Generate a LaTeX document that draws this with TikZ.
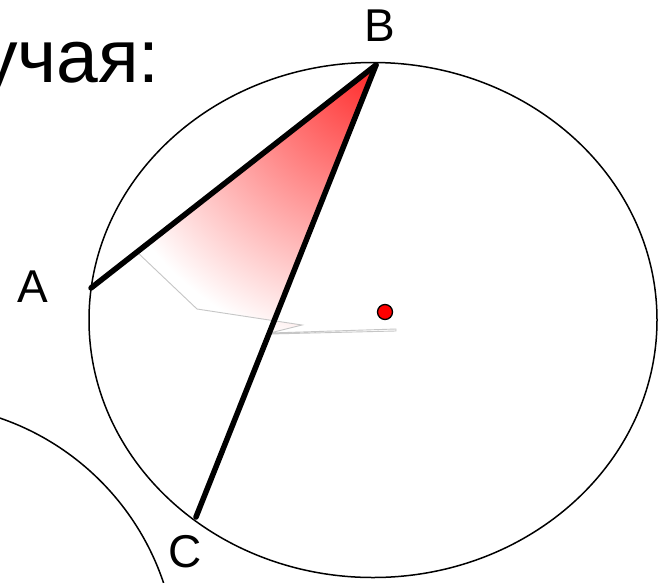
\documentclass[tikz,border=0pt]{standalone}
\usepackage{fontspec}
\setmainfont{Liberation Sans}
\begin{document}
\begin{tikzpicture}[x=1pt,y=-1pt,
  chord/.style={line width=5.5pt, line cap=round},
  rim/.style={line width=1.5pt},
  lbl/.style={font=\fontsize{46}{50}\selectfont, inner sep=0pt},
  hint/.style={draw=gray!45, line width=0.9pt}]
\useasboundingbox (0,0) rectangle (664,582);
\fill[white] (0,0) rectangle (664,582);
% heading fragment
\node[anchor=base east, inner sep=0pt, font=\fontsize{75}{80}\selectfont] (title) at (160,82) {учая:};
% points
\coordinate (A) at (91,288);
\coordinate (B) at (376,65);
\coordinate (C) at (196,517);
\coordinate (P1) at (137,252);
\coordinate (P2) at (197,309);
\coordinate (P3) at (302,325);
\coordinate (P4) at (270,333);
\coordinate (P5) at (396,329);
% shaded region (radial from B)
\begin{scope}
  \clip (B) -- (P1) -- (P2) -- (P3) -- (P4) -- cycle;
  \shade[inner color=red!85!white, outer color=white] (B) circle [radius=290];
\end{scope}
\draw[hint] (B) -- (P1) -- (P2) -- (P3) -- (P4) -- (P5) -- ([yshift=-2]P5) -- ([yshift=-1]P4);
% circles
\draw[rim] (373,320) ellipse [x radius=284, y radius=257.5];
\draw[rim] (-85,666) circle [radius=262];
% chords
\draw[chord] (A) -- (B);
\draw[chord] (B) -- (C);
% centre dot
\node[circle, fill=red, draw=black, line width=1.3pt, minimum size=15pt, inner sep=0pt] (O) at (385,312) {};
% labels
\node[lbl] (la) at (33,287) {A};
\node[lbl] (lb) at (380,26) {B};
\node[lbl] (lc) at (185,552) {C};
\end{tikzpicture}
\end{document}
